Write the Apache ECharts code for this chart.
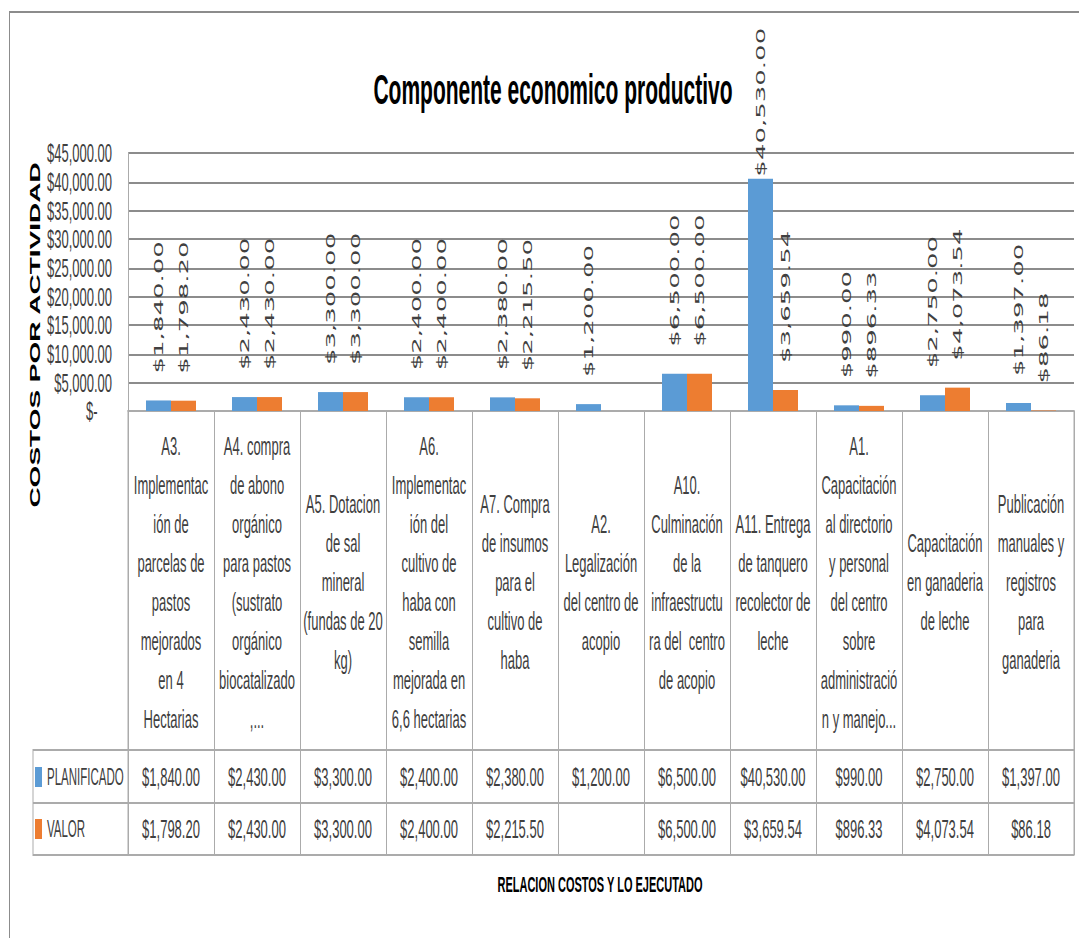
<!DOCTYPE html>
<html>
<head>
<meta charset="utf-8">
<script src="https://cdn.jsdelivr.net/npm/echarts@6/dist/echarts.min.js"></script>
<style>
  html, body { margin: 0; padding: 0; background: #fff; }
  body { width: 1079px; height: 938px; }
  /* the reference picture is stretched 2x vertically, so draw at half height and stretch */
  #main { width: 1079px; height: 469px; transform: scaleY(2); transform-origin: 0 0; }
</style>
</head>
<body>
<div id="main"></div>
<script>
var categories = [
  'A3.\nImplementac\nión de\nparcelas de\npastos\nmejorados\nen 4\nHectarias',
  'A4. compra\nde abono\norgánico\npara pastos\n(sustrato\norgánico\nbiocatalizado\n,...',
  'A5. Dotacion\nde sal\nmineral\n(fundas de 20\nkg)',
  'A6.\nImplementac\nión del\ncultivo de\nhaba con\nsemilla\nmejorada en\n6,6 hectarias',
  'A7. Compra\nde insumos\npara el\ncultivo de\nhaba',
  'A2.\nLegalización\ndel centro de\nacopio',
  'A10.\nCulminación\nde la\ninfraestructu\nra del  centro\nde acopio',
  'A11. Entrega\nde tanquero\nrecolector de\nleche',
  'A1.\nCapacitación\nal directorio\ny personal\ndel centro\nsobre\nadministració\nn y manejo...',
  'Capacitación\nen ganaderia\nde leche',
  'Publicación\nmanuales y\nregistros\npara\nganaderia'
];
var planificado = [1840, 2430, 3300, 2400, 2380, 1200, 6500, 40530, 990, 2750, 1397];
var valor = [1798.2, 2430, 3300, 2400, 2215.5, null, 6500, 3659.54, 896.33, 4073.54, 86.18];
var seriesNames = ['PLANIFICADO', 'VALOR'];
var yMin = 0, yMax = 45000, yStep = 5000;

var chart = echarts.init(document.getElementById('main'), null, { renderer: 'svg' });

function money(v) {
  if (v == null) return '';
  return '$' + v.toLocaleString('en-US', { minimumFractionDigits: 2, maximumFractionDigits: 2 });
}

// layout (half-height coordinates)
var plotLeft = 128, plotRight = 5, plotTop = 76.5, plotBottom = 205.5;
var headBottom = 375, row1Bottom = 401.5, row2Bottom = 427.5, legendLeft = 33;
var tableLine = '#ababab';
var textColor = '#404040';
var tableFont = 'Liberation Sans';

function barData(arr) {
  var max = Math.max.apply(null, arr.filter(function (v) { return v != null; }));
  return arr.map(function (v) {
    // the tallest label sits right on its bar (no room above it)
    if (v === max && v > 20000) return { value: v, label: { distance: 1 } };
    return v;
  });
}

var barLabel = {
  show: true,
  position: 'top',
  distance: 13.5,
  rotate: 90,
  align: 'left',
  verticalAlign: 'middle',
  fontFamily: 'DejaVu Sans',
  fontSize: 13,
  color: textColor,
  formatter: function (p) { return money(p.value); }
};

var option = {
  backgroundColor: '#fff',
  animation: false,
  color: ['#5B9BD5', '#ED7D31'],
  title: {
    text: 'Componente economico productivo',
    left: 548,
    top: 29,
    textAlign: 'center',
    textStyle: { fontFamily: 'Liberation Sans', fontWeight: 'bold', fontSize: 21, color: '#000' }
  },
  legend: {
    data: seriesNames,
    orient: 'vertical',
    left: 35,
    top: 381.5,
    padding: 0,
    itemGap: 12,
    itemWidth: 7,
    itemHeight: 10,
    icon: 'rect',
    textStyle: { fontFamily: tableFont, fontSize: 11.5, color: textColor, lineHeight: 14 }
  },
  grid: [
    { left: plotLeft, right: plotRight, top: plotTop, height: plotBottom - plotTop },
    { left: plotLeft, right: plotRight, top: plotBottom, height: row2Bottom - plotBottom,
      show: true, borderColor: tableLine, borderWidth: 1, backgroundColor: 'transparent' }
  ],
  xAxis: [
    {
      type: 'category', gridIndex: 0, data: categories,
      axisLine: { lineStyle: { color: tableLine } },
      axisTick: { show: false },
      axisLabel: {
        interval: 0, margin: 291 - plotBottom, verticalAlign: 'middle', align: 'center',
        lineHeight: 19.5, fontFamily: tableFont, fontSize: 13, color: textColor
      }
    },
    {
      type: 'category', gridIndex: 0, position: 'bottom', offset: 0, data: categories,
      axisLine: { show: false }, axisTick: { show: false },
      axisLabel: {
        interval: 0, margin: 388.5 - plotBottom, verticalAlign: 'middle',
        fontFamily: tableFont, fontSize: 13, color: textColor,
        formatter: function (v, i) { return money(planificado[i]); }
      }
    },
    {
      type: 'category', gridIndex: 0, position: 'bottom', offset: 0, data: categories,
      axisLine: { show: false }, axisTick: { show: false },
      axisLabel: {
        interval: 0, margin: 414.5 - plotBottom, verticalAlign: 'middle',
        fontFamily: tableFont, fontSize: 13, color: textColor,
        formatter: function (v, i) { return money(valor[i]); }
      }
    },
    {
      type: 'category', gridIndex: 1, data: categories,
      axisLine: { show: false }, axisTick: { show: false },
      axisLabel: { show: false, interval: 0 },
      splitLine: { show: true, interval: 0, lineStyle: { color: tableLine, width: 1 } }
    }
  ],
  yAxis: [
    {
      type: 'value', gridIndex: 0, min: yMin, max: yMax, interval: yStep,
      axisLine: { show: true, lineStyle: { color: tableLine } },
      axisTick: { show: false },
      splitLine: { lineStyle: { color: '#8c8c8c', width: 1 } },
      axisLabel: {
        margin: 16, fontFamily: tableFont, fontSize: 13, color: textColor,
        formatter: function (v) { return v === 0 ? '$-    ' : money(v); }
      }
    },
    { type: 'value', gridIndex: 1, show: false }
  ],
  series: [
    {
      name: seriesNames[0], type: 'bar', xAxisIndex: 0, yAxisIndex: 0,
      barWidth: 25, barGap: '0%', data: barData(planificado), label: barLabel
    },
    {
      name: seriesNames[1], type: 'bar', xAxisIndex: 0, yAxisIndex: 0,
      barWidth: 25, barGap: '0%', data: barData(valor), label: barLabel
    }
  ],
  graphic: [
    // chart area frame
    { type: 'rect', shape: { x: 9.5, y: 6, width: 1200, height: 1000 }, silent: true,
      style: { fill: 'none', stroke: '#8c8c8c', lineWidth: 1 } },
    // data table rows with legend column
    { type: 'polyline', silent: true,
      shape: { points: [[plotLeft, headBottom], [legendLeft, headBottom], [legendLeft, row2Bottom], [plotLeft, row2Bottom]] },
      style: { fill: 'none', stroke: tableLine, lineWidth: 1 } },
    { type: 'line', silent: true, shape: { x1: legendLeft, y1: row1Bottom, x2: 1079 - plotRight, y2: row1Bottom },
      style: { stroke: tableLine, lineWidth: 1 } },
    { type: 'line', silent: true, shape: { x1: plotLeft, y1: headBottom, x2: 1079 - plotRight, y2: headBottom },
      style: { stroke: tableLine, lineWidth: 1 } },
    // axis titles
    { type: 'text', x: 35, y: 167.5, rotation: Math.PI / 2, silent: true,
      style: { text: 'COSTOS POR ACTIVIDAD', align: 'center', verticalAlign: 'middle',
        font: 'bold 14px "Liberation Sans"', fill: '#000' } },
    { type: 'text', x: 600, y: 442, silent: true,
      style: { text: 'RELACION COSTOS Y LO EJECUTADO', align: 'center', verticalAlign: 'middle',
        font: 'bold 11px "Liberation Sans"', fill: '#000' } }
  ]
};

chart.setOption(option);
</script>
</body>
</html>
